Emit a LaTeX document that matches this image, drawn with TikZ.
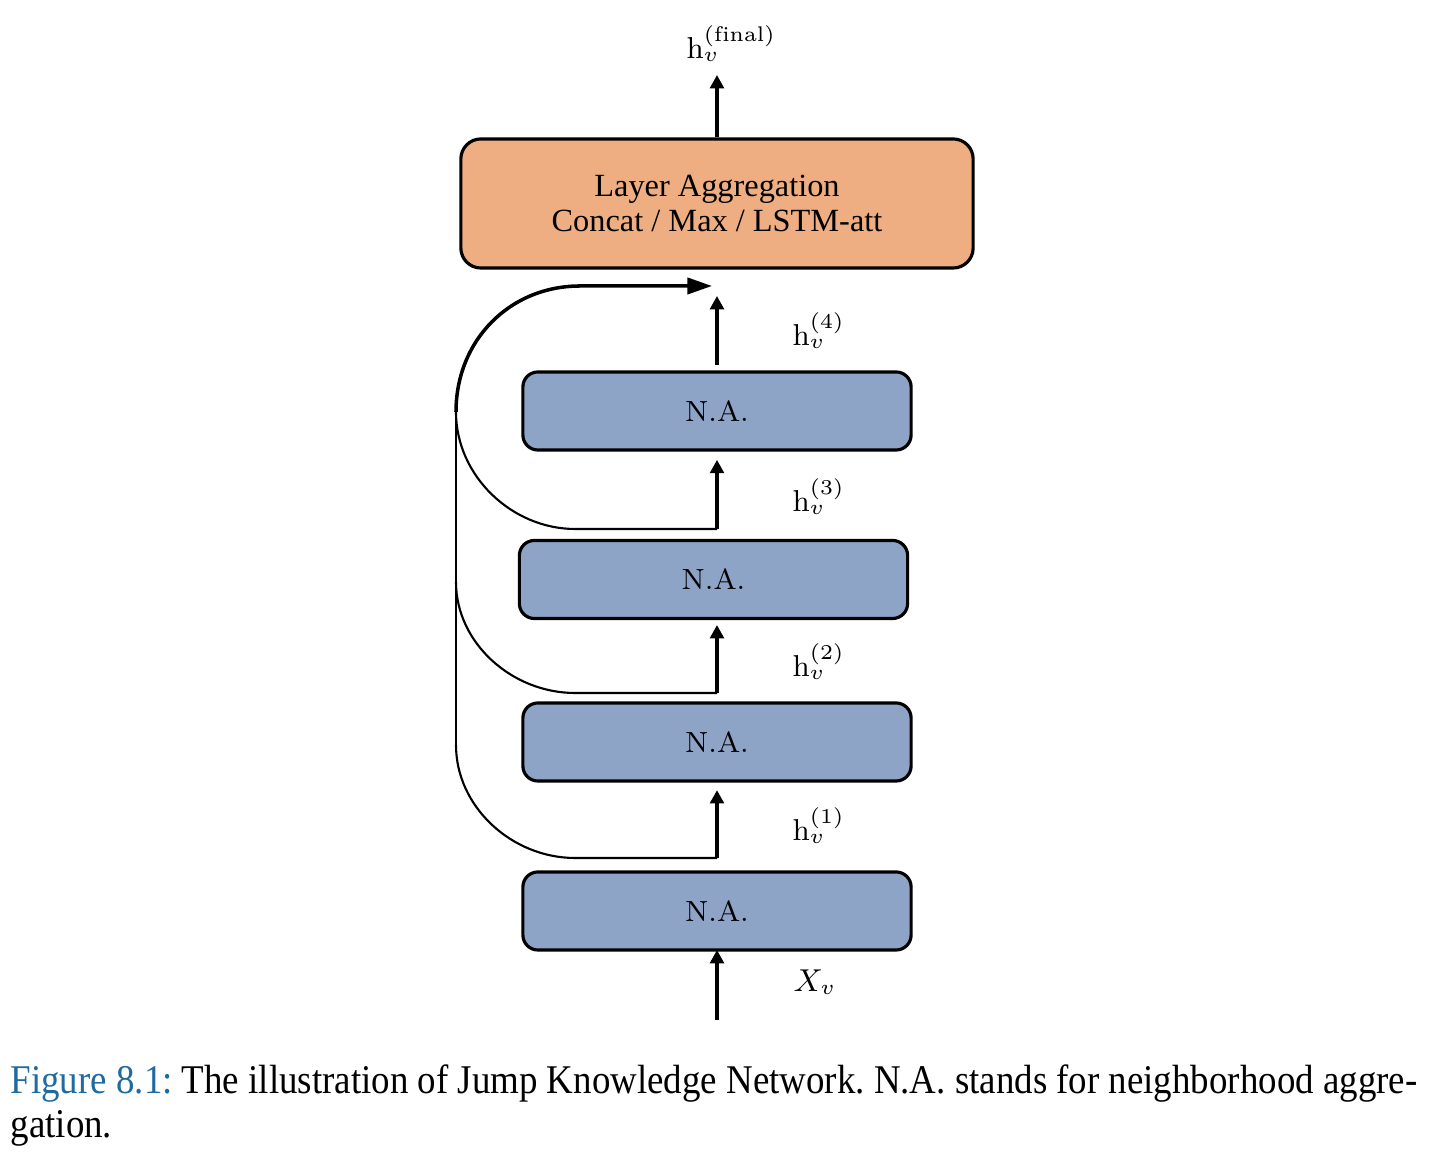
\documentclass[tikz,border=0pt]{standalone}
\usepackage{fontspec}
\newfontfamily\tnr{Liberation Serif}
\usetikzlibrary{arrows.meta}
\definecolor{laorange}{HTML}{EEAE82}
\definecolor{nablue}{HTML}{8EA4C7}
\definecolor{capblue}{HTML}{1F6A9E}
\frenchspacing
\tikzset{
  nabox/.style={draw=black, line width=0.9pt, fill=nablue, rounded corners=0.15cm,
    minimum width=3.88cm, minimum height=0.78cm, inner sep=0pt,
    font=\fontsize{8.3}{10}\selectfont},
  labox/.style={draw=black, line width=0.9pt, fill=laorange, rounded corners=0.2cm,
    minimum width=5.12cm, minimum height=1.29cm, align=center, inner sep=0pt,
    font=\tnr\fontsize{9.2}{10.2}\selectfont},
  flow/.style={line width=1.15pt, -{Triangle[length=3.8pt,width=3.9pt]}},
  jump/.style={line width=0.6pt},
  jumptop/.style={line width=1.0pt, -{Triangle[length=7pt,width=4.6pt]}},
  lbl/.style={font=\fontsize{8.6}{10}\selectfont, anchor=west, inner sep=0pt},
  captext/.style={font=\tnr\fontsize{11.6}{14}\selectfont, anchor=base west, inner sep=0pt},
}
\begin{document}
\begin{tikzpicture}[x=0.01cm,y=-0.01cm]
\useasboundingbox (0,0) rectangle (1432,1174);

% boxes
\node[labox] (la) at (717,203.5) {Layer Aggregation\\Concat / Max / LSTM-att};
\node[nabox, text depth=0pt] (na4) at (717,411) {N.A.};
\node[nabox, text depth=0pt] (na3) at (713.5,579.5) {N.A.};
\node[nabox, text depth=0pt] (na2) at (717,742) {N.A.};
\node[nabox, text depth=0pt] (na1) at (717,911) {N.A.};

% coordinates
\coordinate (xin) at (717,1020);
\coordinate (j1) at (717,858);
\coordinate (j2) at (717,693);
\coordinate (j3) at (717,529);
\coordinate (top) at (717,296);
\coordinate (out) at (717,75);
\coordinate (jtip) at (712,286);
\coordinate (c1) at (575,858);
\coordinate (c2) at (575,693);
\coordinate (c3) at (575,529);
\coordinate (v1) at (456,745);
\coordinate (v2) at (456,582);
\coordinate (v3) at (456,412);
\coordinate (c4) at (580,286);

% main flow
\draw[flow] (xin) -- (717,950);
\draw[flow, shorten >=2.6pt] (j1) -- (717,781);
\draw[flow, shorten >=2pt] (j2) -- (717,618);
\draw[flow, shorten >=2.8pt] (j3) -- (717,450);
\draw[flow] (717,365) -- (top);
\draw[flow] (la.north) -- (out);

% jump connections
\draw[jump] (j1) -- (c1) .. controls (512,858) and (456,807) .. (v1);
\draw[jump] (j2) -- (c2) .. controls (512,693) and (456,643) .. (v2);
\draw[jump] (j3) -- (c3) .. controls (512,529) and (456,476) .. (v3);
\draw[jump] (v1) -- (v3);
\draw[jumptop] (v3) .. controls (456,340) and (510,286) .. (c4) -- (jtip);

% labels
\node[lbl] (lf) at (686,44) {$\mathrm{h}_v^{(\mathrm{final})}$};
\node[lbl] (l4) at (792,331) {$\mathrm{h}_v^{(4)}$};
\node[lbl] (l3) at (792,497) {$\mathrm{h}_v^{(3)}$};
\node[lbl] (l2) at (792,662) {$\mathrm{h}_v^{(2)}$};
\node[lbl] (l1) at (792,826) {$\mathrm{h}_v^{(1)}$};
\node[lbl] (lx) at (793,982) {$X_v$};

% caption
\node[captext] (cap1) at (10,1094) {\scalebox{0.905}[1]{\textcolor{capblue}{Figure 8.1:} The illustration of Jump Knowledge Network. N.A. stands for neighborhood aggre-}};
\node[captext] (cap2) at (10,1138) {\scalebox{0.905}[1]{gation.}};
\end{tikzpicture}
\end{document}
